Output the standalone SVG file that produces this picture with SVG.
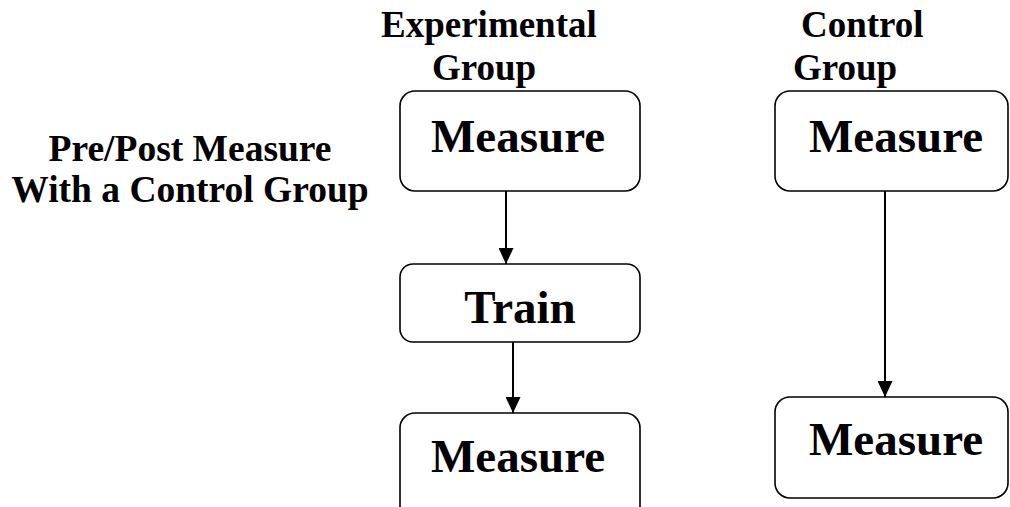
<svg xmlns="http://www.w3.org/2000/svg" width="1010" height="507" viewBox="0 0 1010 507">
  <defs>
    <marker id="arrow" viewBox="0 0 16 15" refX="16" refY="7.5" markerWidth="16" markerHeight="15" markerUnits="userSpaceOnUse" orient="auto">
      <path d="M0,0 L16,7.5 L0,15 Z" fill="#000"/>
    </marker>
    <style>
      .box { fill: #fff; stroke: #000; stroke-width: 1.6; }
      .lbl { font-family: "Liberation Serif", "Times New Roman", serif; font-weight: bold; fill: #000; }
      .big { font-size: 47px; text-anchor: middle; }
      .hdr { font-size: 37px; }
      .ttl { font-size: 37.5px; text-anchor: middle; }
      .conn { stroke: #000; stroke-width: 2; fill: none; marker-end: url(#arrow); }
    </style>
  </defs>
  <rect width="1010" height="507" fill="#fff"/>

  <!-- title -->
  <g id="title">
    <text class="lbl ttl" x="190" y="161">Pre/Post Measure</text>
    <text class="lbl ttl" x="190" y="202">With a Control Group</text>
  </g>

  <!-- column headings -->
  <g id="experimental-heading">
    <text class="lbl hdr" x="381" y="37">Experimental</text>
    <text class="lbl hdr" x="432" y="80">Group</text>
  </g>
  <g id="control-heading">
    <text class="lbl hdr" x="801" y="37">Control</text>
    <text class="lbl hdr" x="793" y="80">Group</text>
  </g>

  <!-- connectors -->
  <g id="connectors">
    <line class="conn" x1="506" y1="191" x2="506" y2="264"/>
    <line class="conn" x1="513" y1="342" x2="513" y2="413"/>
    <line class="conn" x1="885" y1="191" x2="885" y2="397"/>
  </g>

  <!-- experimental group -->
  <g id="exp-measure-pre">
    <rect class="box" x="400" y="91" width="240" height="100" rx="15"/>
    <text class="lbl big" x="518" y="152">Measure</text>
  </g>
  <g id="exp-train">
    <rect class="box" x="400" y="264" width="240" height="78" rx="13"/>
    <text class="lbl big" x="520" y="323">Train</text>
  </g>
  <g id="exp-measure-post">
    <rect class="box" x="400" y="413" width="240" height="112" rx="15"/>
    <text class="lbl big" x="518" y="472">Measure</text>
  </g>

  <!-- control group -->
  <g id="ctl-measure-pre">
    <rect class="box" x="775" y="91" width="233" height="100" rx="15"/>
    <text class="lbl big" x="896" y="152">Measure</text>
  </g>
  <g id="ctl-measure-post">
    <rect class="box" x="775" y="397" width="233" height="101" rx="15"/>
    <text class="lbl big" x="896" y="455">Measure</text>
  </g>
</svg>
